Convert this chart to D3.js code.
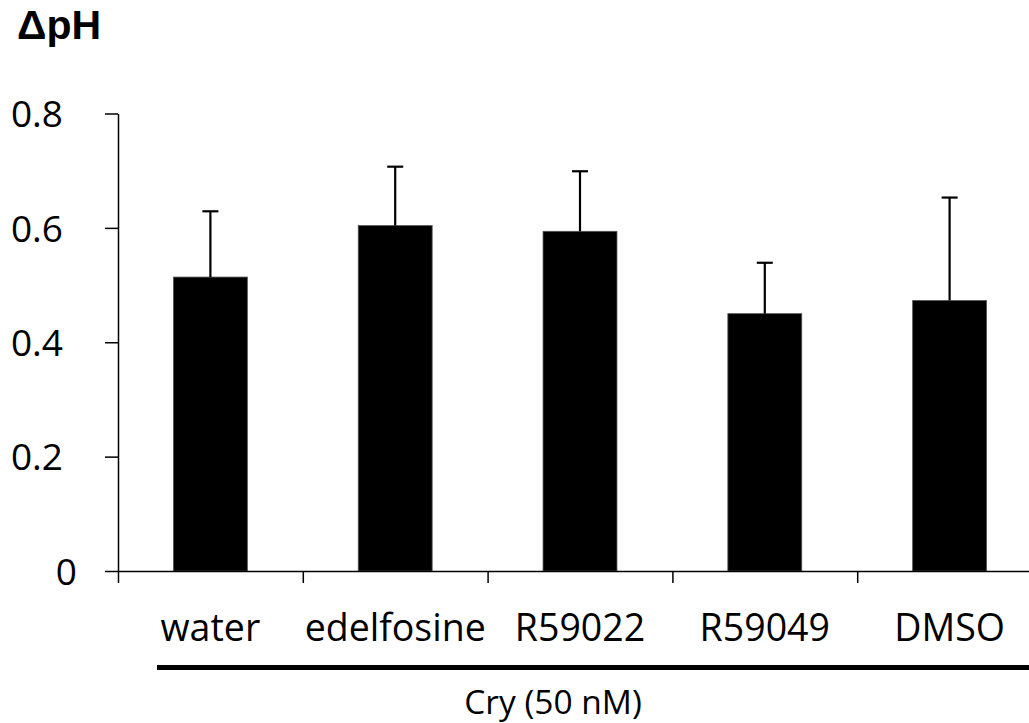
<!DOCTYPE html>
<html><head><meta charset="utf-8">
<script src="https://cdn.jsdelivr.net/npm/d3@7/dist/d3.min.js"></script>
<style>
html,body{margin:0;padding:0;background:#fff;}
svg{display:block;font-family:"Open Sans",sans-serif;}
</style></head>
<body>
<svg id="chart" width="1029" height="723"></svg>
<script>
const categories = ["water","edelfosine","R59022","R59049","DMSO"];
const means = [0.514, 0.604, 0.594, 0.450, 0.473];
const errors = [0.115, 0.103, 0.105, 0.089, 0.180];
const yTicks = [0, 0.2, 0.4, 0.6, 0.8];
const yLabel = "ΔpH";
const groupLabel = "Cry (50 nM)";

const svg = d3.select("#chart");
const x0 = 118, x1 = 1042, yTop = 113.5, yBot = 571;

const x = d3.scaleBand().domain(categories).range([x0, x1]).paddingInner(0.6).paddingOuter(0.3);
const xb = d3.scaleLinear().domain([0, categories.length]).range([x0, x1]);
const y = d3.scaleLinear().domain([0, 0.8]).range([yBot, yTop]);

// bars
svg.append("g").selectAll("rect").data(categories).join("rect")
  .attr("x", d => x(d)).attr("width", x.bandwidth())
  .attr("y", (d,i) => y(means[i])).attr("height", (d,i) => y(0) - y(means[i]))
  .attr("fill", "#000").attr("stroke", "#555").attr("stroke-width", 0.8);

// error bars
const eg = svg.append("g").attr("stroke", "#000").attr("stroke-width", 2.2);
categories.forEach((c, i) => {
  const cx = x(c) + x.bandwidth()/2;
  eg.append("line").attr("x1", cx).attr("x2", cx).attr("y1", y(means[i])).attr("y2", y(means[i] + errors[i]));
  eg.append("line").attr("x1", cx - 8).attr("x2", cx + 8).attr("y1", y(means[i] + errors[i])).attr("y2", y(means[i] + errors[i]));
});

// y axis
const ya = svg.append("g").attr("transform", `translate(${x0},0)`)
  .call(d3.axisLeft(y).tickValues(yTicks).tickSize(13).tickSizeOuter(0).tickPadding(42)
    .tickFormat(d => d === 0 ? "0" : d3.format(".1f")(d)));
ya.select(".domain").attr("stroke", "#000").attr("stroke-width", 1.5);
ya.selectAll(".tick line").attr("stroke", "#000").attr("stroke-width", 1.5);
ya.selectAll(".tick text").attr("font-family", "Open Sans").attr("font-size", 37).attr("fill", "#000")
  .attr("dy", "0.36em")
  .attr("dx", d => d === 0 ? 14 : 0);

// x axis
const xa = svg.append("g").attr("transform", `translate(0,${yBot})`)
  .call(d3.axisBottom(xb).tickValues(d3.range(0, categories.length + 1)).tickSize(12).tickSizeOuter(0).tickFormat(""));
xa.select(".domain").attr("stroke", "#000").attr("stroke-width", 1.5);
xa.selectAll(".tick line").attr("stroke", "#000").attr("stroke-width", 1.5);

// category labels
svg.append("g").selectAll("text").data(categories).join("text")
  .attr("x", d => x(d) + x.bandwidth()/2).attr("y", 641)
  .attr("text-anchor", "middle").attr("font-size", 37.5).attr("fill", "#000")
  .text(d => d);

// group line & label
svg.append("line").attr("x1", 157).attr("x2", 1029).attr("y1", 667.5).attr("y2", 667.5)
  .attr("stroke", "#000").attr("stroke-width", 5);
svg.append("text").attr("x", 553).attr("y", 714).attr("text-anchor", "middle")
  .attr("font-size", 33.5).attr("fill", "#000").text(groupLabel);

// y label
svg.append("text").attr("x", 17).attr("y", 39).attr("font-family", "Liberation Sans")
  .attr("font-size", 41).attr("font-weight", "bold")
  .attr("fill", "#000").text(yLabel);
</script>
</body></html>
